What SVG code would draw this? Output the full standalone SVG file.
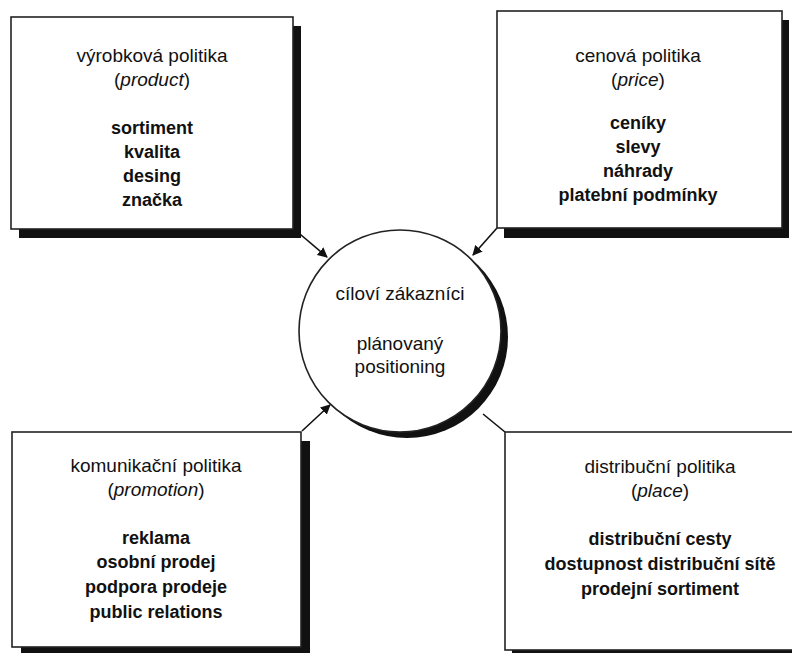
<svg xmlns="http://www.w3.org/2000/svg" width="792" height="653" viewBox="0 0 792 653">
<defs>
<marker id="ah" viewBox="0 0 10 10" refX="9" refY="5" markerWidth="10" markerHeight="10" markerUnits="userSpaceOnUse" orient="auto">
<path d="M0,0 L10,5 L0,10 Z" fill="#111"/>
</marker>
</defs>
<style>
.box{fill:#fff;stroke:#222;stroke-width:1.6}
.sh{fill:#111}
.t{font-family:"Liberation Sans",Arial,sans-serif;font-size:19px;fill:#111;text-anchor:middle}
.b{font-weight:bold;font-size:18px}
.i{font-style:italic}
.c{stroke:#111;stroke-width:1.6;fill:none}
</style>
<rect width="792" height="653" fill="#fff"/>
<g id="connectors">
<line class="c" x1="294" y1="229" x2="327" y2="257" marker-end="url(#ah)"/>
<line class="c" x1="497" y1="228" x2="473" y2="255" marker-end="url(#ah)"/>
<line class="c" x1="302" y1="431" x2="330" y2="405" marker-end="url(#ah)"/>
<line class="c" x1="483" y1="414" x2="505" y2="432"/>
</g>
<g id="product">
<rect class="sh" x="19" y="26" width="282" height="212"/>
<rect class="box" x="11" y="17" width="282" height="212"/>
<text class="t" x="152" y="62">výrobková politika</text>
<text class="t" x="152" y="86">(<tspan class="i">product</tspan>)</text>
<text class="t b" x="152" y="134">sortiment</text>
<text class="t b" x="152" y="158">kvalita</text>
<text class="t b" x="152" y="182">desing</text>
<text class="t b" x="152" y="206">značka</text>
</g>
<g id="price">
<rect class="sh" x="504" y="20" width="285" height="218"/>
<rect class="box" x="497" y="11" width="285" height="217"/>
<text class="t" x="638" y="62">cenová politika</text>
<text class="t" x="638" y="86">(<tspan class="i">price</tspan>)</text>
<text class="t b" x="638" y="129">ceníky</text>
<text class="t b" x="638" y="153">slevy</text>
<text class="t b" x="638" y="177">náhrady</text>
<text class="t b" x="638" y="201">platební podmínky</text>
</g>
<g id="promotion">
<rect class="sh" x="21" y="441" width="289" height="220"/>
<rect class="box" x="12" y="432" width="289" height="215"/>
<text class="t" x="156" y="472">komunikační politika</text>
<text class="t" x="156" y="496">(<tspan class="i">promotion</tspan>)</text>
<text class="t b" x="156" y="544">reklama</text>
<text class="t b" x="156" y="568">osobní prodej</text>
<text class="t b" x="156" y="593">podpora prodeje</text>
<text class="t b" x="156" y="618">public relations</text>
</g>
<g id="place">
<rect class="sh" x="512" y="441" width="290" height="212"/>
<rect class="box" x="505" y="432" width="300" height="218"/>
<text class="t" x="660" y="473">distribuční politika</text>
<text class="t" x="660" y="497">(<tspan class="i">place</tspan>)</text>
<text class="t b" x="660" y="545">distribuční cesty</text>
<text class="t b" x="660" y="570">dostupnost distribuční sítě</text>
<text class="t b" x="660" y="595">prodejní sortiment</text>
</g>
<g id="customers">
<circle cx="407" cy="337" r="101" fill="#111"/>
<circle cx="400" cy="331" r="101" fill="#fff" stroke="#222" stroke-width="1.6"/>
<text class="t" x="400" y="300">cíloví zákazníci</text>
<text class="t" x="400" y="350">plánovaný</text>
<text class="t" x="400" y="373">positioning</text>
</g>
</svg>
